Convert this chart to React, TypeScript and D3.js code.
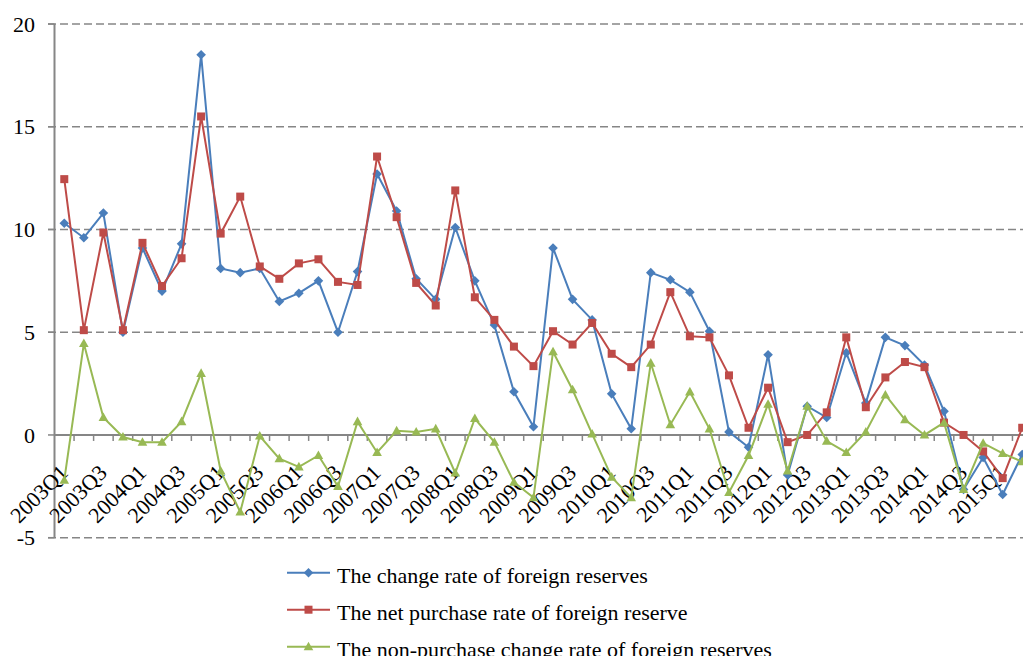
import React from 'react';
import * as d3 from 'd3';

// quarters on the category axis
const quarters = [
  '2003Q1', '2003Q2', '2003Q3', '2003Q4', '2004Q1', '2004Q2', '2004Q3', '2004Q4',
  '2005Q1', '2005Q2', '2005Q3', '2005Q4', '2006Q1', '2006Q2', '2006Q3', '2006Q4',
  '2007Q1', '2007Q2', '2007Q3', '2007Q4', '2008Q1', '2008Q2', '2008Q3', '2008Q4',
  '2009Q1', '2009Q2', '2009Q3', '2009Q4', '2010Q1', '2010Q2', '2010Q3', '2010Q4',
  '2011Q1', '2011Q2', '2011Q3', '2011Q4', '2012Q1', '2012Q2', '2012Q3', '2012Q4',
  '2013Q1', '2013Q2', '2013Q3', '2013Q4', '2014Q1', '2014Q2', '2014Q3', '2014Q4',
  '2015Q1', '2015Q2',
];

const changeRate = [
  10.3, 9.6, 10.8, 5.0, 9.1, 7.0, 9.3, 18.5, 8.1, 7.9, 8.1, 6.5, 6.9, 7.5, 5.0, 7.95,
  12.7, 10.9, 7.6, 6.6, 10.1, 7.5, 5.35, 2.1, 0.4, 9.1, 6.6, 5.6, 2.0, 0.3, 7.9, 7.55,
  6.95, 5.05, 0.15, -0.6, 3.9, -1.95, 1.4, 0.85, 4.0, 1.55, 4.75, 4.35, 3.4, 1.15, -2.65, -1.1,
  -2.9, -0.95,
];

const netPurchaseRate = [
  12.45, 5.1, 9.85, 5.1, 9.35, 7.25, 8.6, 15.5, 9.8, 11.6, 8.2, 7.6, 8.35, 8.55, 7.45, 7.3,
  13.55, 10.6, 7.4, 6.3, 11.9, 6.7, 5.6, 4.3, 3.35, 5.05, 4.4, 5.45, 3.95, 3.3, 4.4, 6.95,
  4.8, 4.75, 2.9, 0.35, 2.3, -0.35, 0.0, 1.1, 4.75, 1.35, 2.8, 3.55, 3.3, 0.6, 0.0, -0.8,
  -2.1, 0.35,
];

const nonPurchaseRate = [
  -2.2, 4.45, 0.85, -0.1, -0.35, -0.35, 0.65, 3.0, -1.75, -3.75, -0.05, -1.15, -1.55, -1.0, -2.5, 0.65,
  -0.85, 0.2, 0.15, 0.3, -1.85, 0.8, -0.35, -2.3, -3.05, 4.05, 2.2, 0.05, -2.05, -3.05, 3.5, 0.5,
  2.1, 0.3, -2.8, -1.0, 1.5, -1.75, 1.4, -0.3, -0.85, 0.15, 1.95, 0.75, 0.0, 0.6, -2.65, -0.4,
  -0.9, -1.3,
];

const yTicks = [-5, 0, 5, 10, 15, 20];

const seriesNames = [
  'The change rate of foreign reserves',
  'The net purchase rate of foreign reserve',
  'The non-purchase change rate of foreign reserves',
];

const W = 1023;
const H = 656;
const FONT = "'Liberation Serif', 'Times New Roman', serif";
const AXIS = '#868686';

const x = d3.scaleBand<string>().domain(quarters).range([54.5, 54.5 + quarters.length * 19.55]);
const y = d3.scaleLinear().domain([-5, 20]).range([537.7, 24]);
const cx = (q: string) => (x(q) as number) + x.bandwidth() / 2;

const series = [
  { name: seriesNames[0], values: changeRate, color: '#4A7EBB', marker: 'diamond' },
  { name: seriesNames[1], values: netPurchaseRate, color: '#BE4B48', marker: 'square' },
  { name: seriesNames[2], values: nonPurchaseRate, color: '#98B954', marker: 'triangle' },
];

const Marker = ({ type, px, py, color }: { type: string; px: number; py: number; color: string }) => {
  if (type === 'square') {
    return <rect x={px - 4} y={py - 4} width={8} height={8} fill={color} />;
  }
  if (type === 'diamond') {
    return <path d={`M${px},${py - 4.8}L${px + 4.8},${py}L${px},${py + 4.8}L${px - 4.8},${py}Z`} fill={color} />;
  }
  return <path d={`M${px},${py - 5}L${px + 4.8},${py + 3.6}L${px - 4.8},${py + 3.6}Z`} fill={color} />;
};

export default function App() {
  const line = d3
    .line<number>()
    .x((_, i) => cx(quarters[i]))
    .y((d) => y(d));

  const right = W;
  const y0 = y(0);

  return (
    <svg
      width={W}
      height={H}
      style={{ position: 'absolute', left: 0, top: 0, background: '#fff' }}
      fontFamily={FONT}
    >
      {/* gridlines */}
      {yTicks.filter((t) => t !== 0).map((t) => (
        <line key={t} x1={48} x2={right} y1={y(t)} y2={y(t)} stroke={AXIS} strokeWidth={1.5} strokeDasharray="8 4" />
      ))}
      {/* y axis */}
      <line x1={54.5} x2={54.5} y1={y(20)} y2={y(-5)} stroke={AXIS} strokeWidth={2} />
      {yTicks.map((t) => (
        <g key={t}>
          <line x1={48} x2={54.5} y1={y(t)} y2={y(t)} stroke={AXIS} strokeWidth={1.5} />
          <text x={35} y={y(t)} dy="0.35em" textAnchor="end" fontSize={22} fill="#000">
            {t}
          </text>
        </g>
      ))}
      {/* category axis at zero */}
      <line x1={54.5} x2={right} y1={y0} y2={y0} stroke={AXIS} strokeWidth={2} />
      {quarters.map((q) => (
        <line key={q} x1={(x(q) as number) + x.bandwidth()} x2={(x(q) as number) + x.bandwidth()} y1={y0} y2={y0 + 6} stroke={AXIS} strokeWidth={1.5} />
      ))}
      {quarters.map((q, i) =>
        i % 2 === 0 ? (
          <text
            key={q}
            transform={`translate(${cx(q) + 5},${474}) rotate(-45)`}
            textAnchor="end"
            fontSize={22}
            fill="#000"
          >
            {q}
          </text>
        ) : null
      )}
      {/* series */}
      {series.map((s) => (
        <g key={s.name}>
          <path d={line(s.values) || ''} fill="none" stroke={s.color} strokeWidth={2} />
          {s.values.map((v, i) => (
            <Marker key={i} type={s.marker} px={cx(quarters[i])} py={y(v)} color={s.color} />
          ))}
        </g>
      ))}
      {/* legend */}
      {series.map((s, i) => {
        const ly = 572.7 + i * 37;
        return (
          <g key={s.name}>
            <line x1={287} x2={330} y1={ly} y2={ly} stroke={s.color} strokeWidth={2} />
            <Marker type={s.marker} px={308.5} py={ly} color={s.color} />
            <text x={337} y={ly + 10.5} fontSize={22} fill="#000">
              {s.name}
            </text>
          </g>
        );
      })}
    </svg>
  );
}
